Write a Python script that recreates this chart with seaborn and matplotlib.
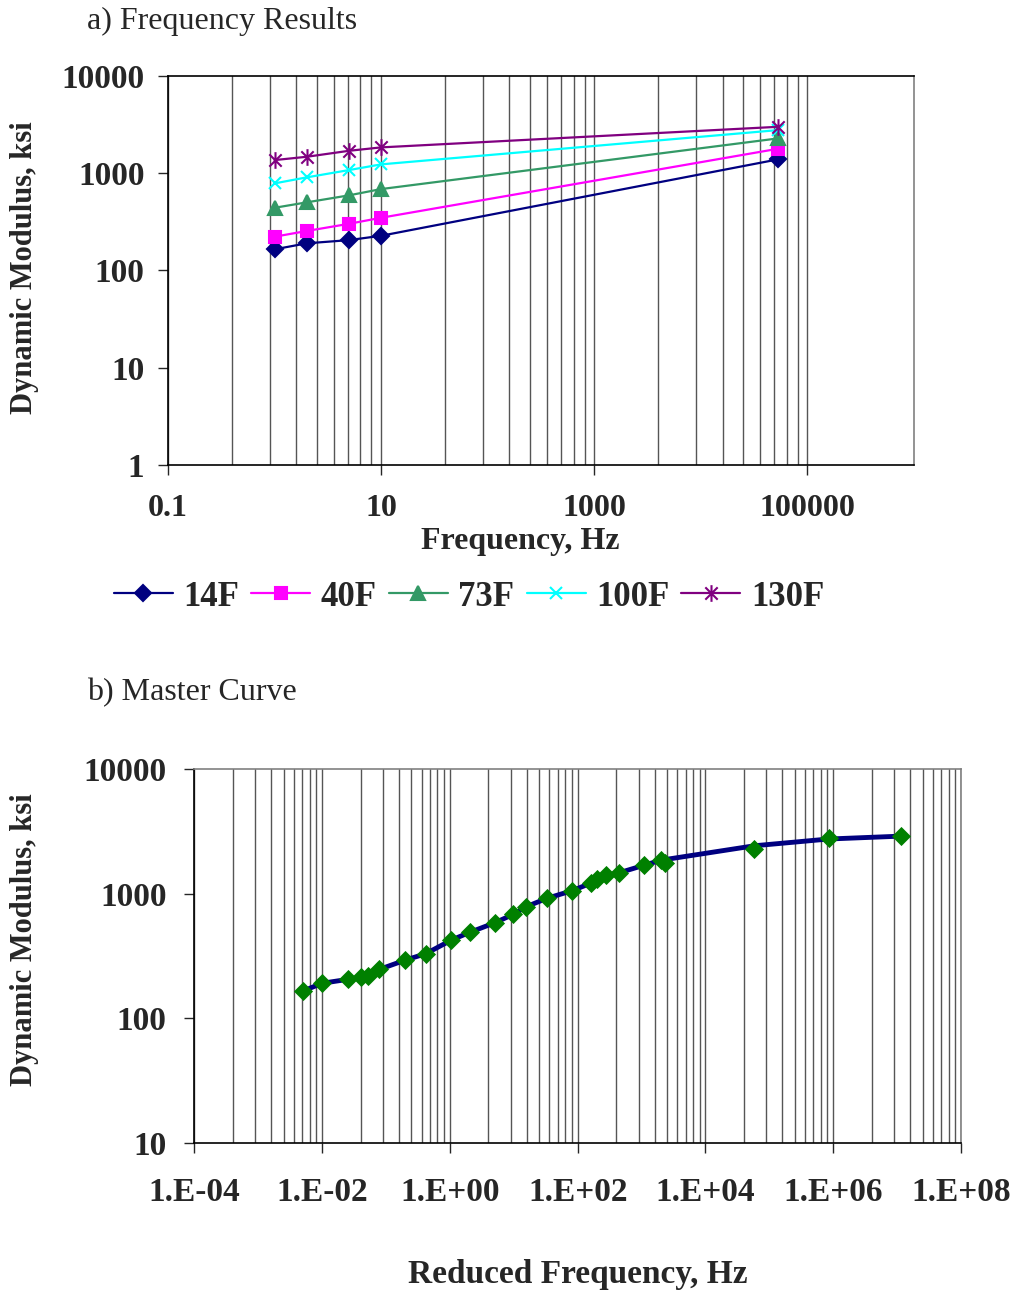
import seaborn as sns
import matplotlib.pyplot as plt
from matplotlib.path import Path
from matplotlib.lines import Line2D
from matplotlib.ticker import FixedLocator, FixedFormatter, NullFormatter, NullLocator

# a) resultados por frecuencia
frecuencias = [1, 2, 5, 10, 53000]
e_14F = [164, 189, 204, 226, 1376]
e_40F = [221, 253, 300, 346, 1769]
e_73F = [438, 498, 588, 682, 2260]
e_100F = [780, 899, 1069, 1223, 2750]
e_130F = [1353, 1463, 1686, 1827, 2973]
temperaturas = ['14F', '40F', '73F', '100F', '130F']

# b) curva maestra
frec_reducida = [5.1e-3, 1.0e-2, 2.5e-2, 4.0e-2, 5.3e-2, 7.9e-2, 0.2, 0.42, 1.06, 2.05,
                 5.07, 9.8, 15.6, 32.8, 81.4, 159, 202, 280, 437, 1079,
                 2046, 2290, 58300, 8.47e5, 1.16e7]
e_medido = [166, 191, 205, 213, 219, 247, 293, 330, 425, 490,
            585, 683, 786, 918, 1057, 1213, 1312, 1406, 1458, 1691,
            1865, 1774, 2273, 2818, 2905]
e_ajuste = [166, 191, 205, 213, 219, 247, 293, 330, 425, 490,
            585, 683, 786, 918, 1057, 1213, 1312, 1406, 1470, 1691,
            1865, 1880, 2430, 2754, 2905]

ticks_x_a = [0.1, 10, 1000, 100000]
etiq_x_a = ['0.1', '10', '1000', '100000']
ticks_y_a = [1, 10, 100, 1000, 10000]
ticks_x_b = [1e-4, 1e-2, 1e0, 1e2, 1e4, 1e6, 1e8]
etiq_x_b = ['1.E-04', '1.E-02', '1.E+00', '1.E+02', '1.E+04', '1.E+06', '1.E+08']
ticks_y_b = [10, 100, 1000, 10000]

colores = ['#000080', '#FF00FF', '#339966', '#00FFFF', '#800080']
estrella = Path([(-1, -1), (1, 1), (-1, 1), (1, -1), (0, -1.35), (0, 1.35)],
                [Path.MOVETO, Path.LINETO] * 3)
marcadores = ['D', 's', '^', 'x', estrella]
tamanos = [8, 8.5, 10, 9, 12]

sns.set_style('ticks')
plt.rcParams['font.family'] = ['Liberation Serif', 'DejaVu Serif']
plt.rcParams['font.weight'] = 'bold'

W, H = 1022, 1293
fig = plt.figure(figsize=(W / 100, H / 100), dpi=100)
ax1 = fig.add_axes([168 / W, 1 - 465 / H, 746 / W, 389.5 / H])
ax2 = fig.add_axes([194.3 / W, 1 - 1142.7 / H, 766.7 / W, 373.4 / H])

series = [e_14F, e_40F, e_73F, e_100F, e_130F]
for vals, c, m, ms in zip(series, colores, marcadores, tamanos):
    sns.lineplot(x=frecuencias, y=vals, color=c, marker=m, markersize=ms,
                 markeredgecolor=c, markeredgewidth=1.5, linewidth=1.6, ax=ax1)

sns.lineplot(x=frec_reducida, y=e_ajuste, color='#000080', linewidth=3.5, ax=ax2)
sns.scatterplot(x=frec_reducida, y=e_medido, color='#008000', marker='D', s=95,
                linewidth=0, ax=ax2, zorder=3)


def menores(mayores):
    # excel con base 100: lineas menores en m*k^2
    return [m * k * k for m in mayores for k in range(2, 10)]


def formato(ax, xt, xl, yt, xmin, xmax, ymin, ymax, con_menores):
    ax.set_xscale('log')
    ax.set_yscale('log')
    ax.set_xlim(xmin, xmax)
    ax.set_ylim(ymin, ymax)
    ax.xaxis.set_major_locator(FixedLocator(xt))
    ax.xaxis.set_major_formatter(FixedFormatter(xl))
    ax.xaxis.set_minor_locator(FixedLocator(menores(con_menores)))
    ax.xaxis.set_minor_formatter(NullFormatter())
    ax.yaxis.set_major_locator(FixedLocator(yt))
    ax.yaxis.set_major_formatter(FixedFormatter([str(v) for v in yt]))
    ax.yaxis.set_minor_locator(NullLocator())
    ax.set_axisbelow(True)
    ax.grid(True, which='both', axis='x', color='#555555', linewidth=1.0)
    ax.tick_params(which='major', length=7, width=1, direction='out', labelsize=24,
                   bottom=True, left=True)
    ax.tick_params(which='minor', length=0)
    ax.tick_params(axis='x', pad=18)
    ax.tick_params(axis='y', pad=10)
    for lado in ['top', 'right', 'bottom', 'left']:
        ax.spines[lado].set_visible(True)
        ax.spines[lado].set_linewidth(1.2)
        ax.spines[lado].set_color('black')
    ax.spines['right'].set_color('#808080')
    ax.set_xlabel('')
    ax.set_ylabel('')


formato(ax1, ticks_x_a, etiq_x_a, ticks_y_a, 0.1, 1e6, 1, 1e4, [0.1, 10, 1000])
formato(ax2, ticks_x_b, etiq_x_b, ticks_y_b, 1e-4, 1e8, 10, 1e4,
        [1e-4, 1e-2, 1, 1e2, 1e4, 1e6])
ax1.tick_params(axis='x', pad=14, labelsize=23)
ax2.spines['top'].set_color('#808080')
ax2.tick_params(axis='y', pad=13)

# textos
fig.text(87 / W, 1 - 21 / H, 'a) Frequency Results', fontsize=23, fontweight='normal',
         ha='left', va='center')
fig.text(87 / W, 1 - 693 / H, 'b) Master Curve', fontsize=23, fontweight='normal',
         ha='left', va='center')
fig.text(520 / W, 1 - 541 / H, 'Frequency, Hz', fontsize=23, ha='center', va='center')
fig.text(578 / W, 1 - 1274 / H, 'Reduced Frequency, Hz', fontsize=24, ha='center',
         va='center')
fig.text(25 / W, 1 - 268 / H, 'Dynamic Modulus, ksi', fontsize=22, rotation=90,
         ha='center', va='center')
fig.text(25 / W, 1 - 940 / H, 'Dynamic Modulus, ksi', fontsize=22, rotation=90,
         ha='center', va='center')

handles = [Line2D([], [], color=c, marker=m, markersize=ms, markeredgecolor=c,
                  markeredgewidth=1.5, linewidth=1.6)
           for c, m, ms in zip(colores, marcadores, tamanos)]
fig.legend(handles, temperaturas, loc='center', bbox_to_anchor=(469 / W, 1 - 597 / H),
           ncol=5, frameon=False, fontsize=25, handlelength=1.7, handletextpad=0.3,
           columnspacing=0.35)

fig.savefig('out.png', dpi=100)
